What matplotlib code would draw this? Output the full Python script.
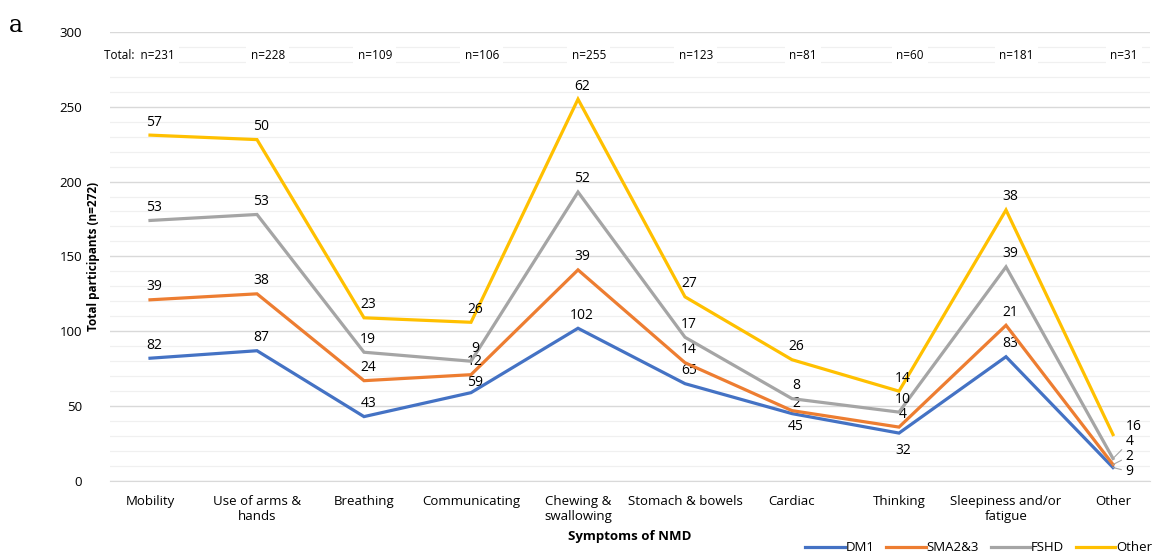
import matplotlib.pyplot as plt
import numpy as np

plt.rcParams["font.family"] = ["Open Sans", "DejaVu Sans"]

symptoms = [
    "Mobility", "Use of arms &\nhands", "Breathing", "Communicating",
    "Chewing &\nswallowing", "Stomach & bowels", "Cardiac", "Thinking",
    "Sleepiness and/or\nfatigue", "Other",
]
series_names = ["DM1", "SMA2&3", "FSHD", "Other"]
dm1 = [82, 87, 43, 59, 102, 65, 45, 32, 83, 9]
sma = [39, 38, 24, 12, 39, 14, 2, 4, 21, 2]
fshd = [53, 53, 19, 9, 52, 17, 8, 10, 39, 4]
other = [57, 50, 23, 26, 62, 27, 26, 14, 38, 16]
colors = ["#4472C4", "#ED7D31", "#A5A5A5", "#FFC000"]

# label offsets in points (dx, dy) where default doesn't fit
default_off = (3, 4)
special_off = {
    (0, 6): (3, -4),
    (0, 7): (3, -7),
    (0, 3): (3, 2),
    (1, 6): (3, 0),
    (0, 9): (9, -3),
    (1, 9): (9, 6),
    (2, 9): (9, 12),
    (3, 9): (9, 6),
}

fig = plt.figure(figsize=(11.64, 5.58), dpi=100)
ax = fig.add_axes([110 / 1164, 0.138, 1040 / 1164, 0.805])

x = np.arange(len(symptoms))
values = np.array([dm1, sma, fshd, other])
cum = np.cumsum(values, axis=0)
totals = cum[-1]

for i, (name, col) in enumerate(zip(series_names, colors)):
    ax.plot(x, cum[i], color=col, lw=2.3, label=name, zorder=3, solid_joinstyle="miter")
    for j in range(len(x)):
        dx, dy = special_off.get((i, j), default_off)
        if j == 9:
            ax.annotate(str(values[i, j]), (x[j], cum[i, j]), xytext=(dx, dy),
                        textcoords="offset points", ha="left", va="center", fontsize=10,
                        arrowprops=dict(arrowstyle="-", color="#A5A5A5", lw=0.8,
                                        shrinkA=1, shrinkB=0) if i < 3 else None)
        else:
            ax.annotate(str(values[i, j]), (x[j], cum[i, j]), xytext=(dx, dy),
                        textcoords="offset points", ha="center",
                        va="bottom" if dy >= 0 else "top", fontsize=10)

# totals row
for j in range(len(x)):
    txt = f"n={totals[j]}"
    if j == 0:
        txt = "Total:  " + txt
    ax.text(x[j] + (0.1 if j else -0.1), 284, txt, ha="center", va="center", fontsize=8.5,
            bbox=dict(facecolor="white", edgecolor="none", pad=3), zorder=4)

ax.set_ylim(0, 300)
ax.set_xlim(-40 / 107, 1000 / 107)
ax.set_yticks(np.arange(0, 301, 50))
ax.set_yticks(np.arange(0, 301, 10), minor=True)
ax.grid(True, axis="y", which="major", color="#D9D9D9", lw=1.0)
ax.grid(True, axis="y", which="minor", color="#F0F0F0", lw=0.9)
ax.set_axisbelow(True)
ax.set_xticks(x)
ax.set_xticklabels(symptoms, fontsize=9.5)
ax.tick_params(axis="both", which="both", length=0, labelsize=9.5)
ax.tick_params(axis="x", pad=10)
ax.tick_params(axis="y", pad=20)
for s in ["left", "right", "top"]:
    ax.spines[s].set_visible(False)
ax.spines["bottom"].set_color("#D9D9D9")
ax.set_ylabel("Total participants (n=272)", fontsize=8.5, fontweight="bold")
ax.yaxis.set_label_coords(-0.01, 0.5)
ax.set_xlabel("Symptoms of NMD", fontsize=9.5, fontweight="bold", labelpad=5)

fig.legend(loc="lower right", bbox_to_anchor=(1.0, -0.015), ncol=4, frameon=False,
           fontsize=9.5, handlelength=3.0, columnspacing=0.9, handletextpad=0.05)
fig.text(0.008, 0.955, "a", fontsize=17, family="DejaVu Serif", ha="left", va="center")

fig.savefig("out.png", dpi=100, facecolor="white")
